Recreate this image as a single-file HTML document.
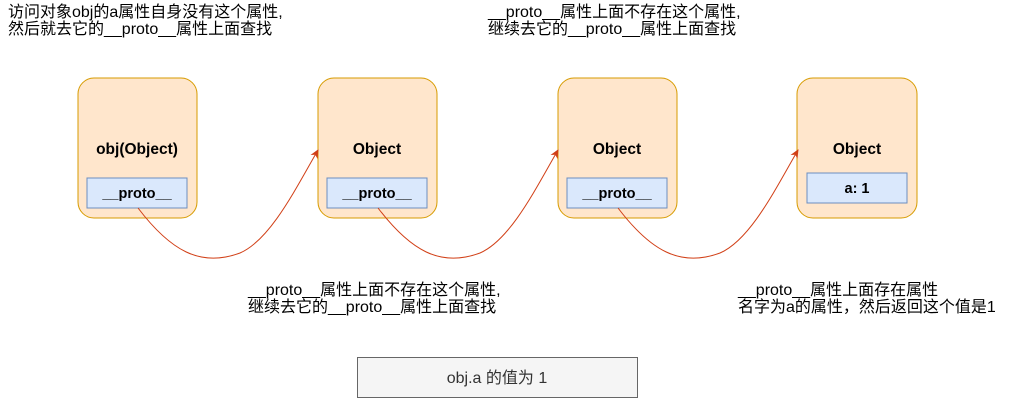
<!DOCTYPE html>
<html><head><meta charset="utf-8"><style>
html,body{margin:0;padding:0;background:#fff;}
svg text{font-family:"Liberation Sans","Noto Sans CJK SC",sans-serif;}
</style></head><body>
<svg width="1023" height="410" viewBox="0 0 1023 410" xmlns="http://www.w3.org/2000/svg">
<defs><marker id="a" markerWidth="10" markerHeight="10" refX="8" refY="5" orient="auto" markerUnits="userSpaceOnUse"><path d="M0,1 L9,5 L0,9 L2.5,5 Z" fill="#d13f16"/></marker></defs>
<g stroke="#d79b00" fill="#ffe6cc">
<rect x="78" y="78" width="119" height="140" rx="16"/>
<rect x="318" y="78" width="119" height="140" rx="16"/>
<rect x="558" y="78" width="119" height="140" rx="16"/>
<rect x="797" y="78" width="120" height="140" rx="16"/>
</g>
<g stroke="#6c8ebf" fill="#dae8fc">
<rect x="87" y="178" width="100" height="30"/>
<rect x="327" y="178" width="100" height="30"/>
<rect x="567" y="178" width="100" height="30"/>
<rect x="807" y="173" width="100" height="30"/>
</g>
<g font-size="15.5" font-weight="bold" text-anchor="middle" fill="#000">
<text x="137" y="154">obj(Object)</text>
<text x="377" y="154">Object</text>
<text x="617" y="154">Object</text>
<text x="857" y="154">Object</text>
<text x="137" y="198" font-size="14.5">__proto__</text>
<text x="377" y="198" font-size="14.5">__proto__</text>
<text x="617" y="198" font-size="14.5">__proto__</text>
<text x="857" y="193" font-size="14.5">a: 1</text>
</g>
<g stroke="#d13f16" fill="none" stroke-width="1" marker-end="url(#a)">
<path d="M138,208 C170,250 200,268 240,253 C270,240 295,190 318,150"/>
<path d="M378,208 C410,250 440,268 480,253 C510,240 535,190 558,150"/>
<path d="M618,208 C650,250 680,268 720,253 C750,240 775,190 798,150"/>
</g>
<g font-size="16" fill="#000">
<text x="8" y="17">访问对象obj的a属性自身没有这个属性,</text>
<text x="8" y="34">然后就去它的__proto__属性上面查找</text>
<text x="488" y="17">__proto__属性上面不存在这个属性,</text>
<text x="488" y="34">继续去它的__proto__属性上面查找</text>
<text x="248" y="295">__proto__属性上面不存在这个属性,</text>
<text x="248" y="312">继续去它的__proto__属性上面查找</text>
<text x="738" y="295">__proto__属性上面存在属性</text>
<text x="738" y="312">名字为a的属性，然后返回这个值是1</text>
</g>
<rect x="357.5" y="357.5" width="280" height="40" fill="#f5f5f5" stroke="#666"/>
<text x="497" y="383" font-size="16" text-anchor="middle" fill="#333">obj.a 的值为 1</text>
</svg>
</body></html>
